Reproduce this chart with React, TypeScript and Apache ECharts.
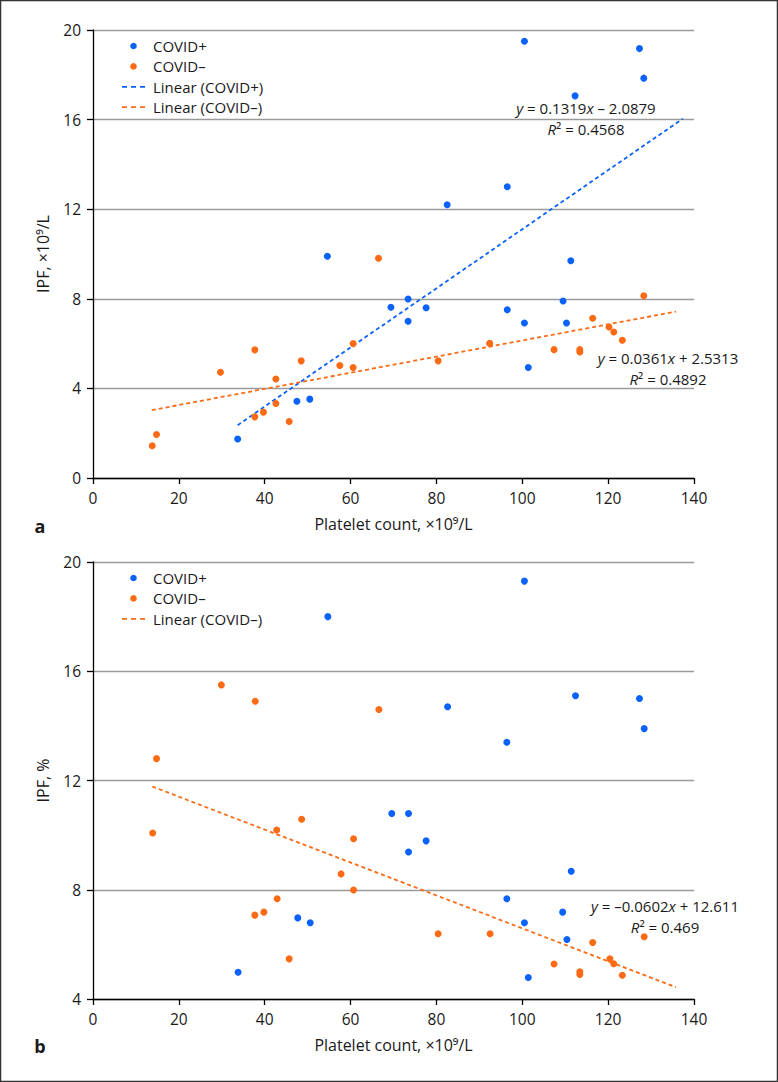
import React, { useEffect, useRef } from 'react';
import * as echarts from 'echarts';

// ---- Data ----
const xTickLabels = ['0', '20', '40', '60', '80', '100', '120', '140'];
const yTicksA = ['0', '4', '8', '12', '16', '20'];
const yTicksB = ['4', '8', '12', '16', '20'];

// Panel a: IPF, ×10⁹/L vs platelet count
const covidPosA: [number, number][] = [
  [33.7, 1.74], [47.5, 3.43], [50.5, 3.52], [54.6, 9.9], [69.4, 7.62], [73.4, 7.99],
  [73.4, 7.0], [77.6, 7.6], [82.5, 12.2], [96.5, 13.0], [96.5, 7.51], [100.5, 19.5],
  [100.5, 6.92], [101.4, 4.93], [109.5, 7.9], [110.3, 6.92], [111.3, 9.7], [112.3, 17.06],
  [127.3, 19.17], [128.3, 17.85],
];
const covidNegA: [number, number][] = [
  [13.8, 1.44], [14.8, 1.94], [29.7, 4.72], [37.7, 5.72], [37.7, 2.73], [39.7, 2.94],
  [42.6, 4.42], [42.6, 3.33], [45.7, 2.52], [48.5, 5.23], [57.5, 5.02], [60.6, 6.0],
  [60.6, 4.93], [66.5, 9.81], [80.4, 5.23], [92.4, 6.01], [107.4, 5.73], [113.4, 5.73],
  [113.4, 5.63], [116.4, 7.13], [120.2, 6.74], [121.3, 6.52], [123.3, 6.15], [128.3, 8.14],
];
const trendPosA: [number, number][] = [[33.7, 2.36], [137.4, 16.04]];
const trendNegA: [number, number][] = [[13.7, 3.03], [135.8, 7.43]];

// Panel b: IPF, % vs platelet count
const covidPosB: [number, number][] = [
  [33.8, 4.98], [47.7, 6.97], [50.6, 6.79], [54.7, 18.0], [69.6, 10.79], [73.5, 10.79],
  [73.5, 9.38], [77.6, 9.79], [82.6, 14.7], [96.4, 13.4], [96.4, 7.67], [100.5, 19.3],
  [100.5, 6.79], [101.4, 4.79], [109.4, 7.18], [110.4, 6.18], [111.4, 8.68], [112.4, 15.1],
  [127.3, 15.0], [128.4, 13.9],
];
const covidNegB: [number, number][] = [
  [13.9, 10.08], [14.8, 12.8], [29.9, 15.5], [37.8, 14.9], [37.7, 7.07], [39.8, 7.18],
  [42.8, 10.19], [42.9, 7.67], [45.7, 5.47], [48.6, 10.58], [57.8, 8.58], [60.7, 9.87],
  [60.7, 7.99], [66.6, 14.6], [80.4, 6.39], [92.5, 6.39], [107.4, 5.28], [113.4, 5.0],
  [113.4, 4.9], [116.4, 6.07], [120.4, 5.47], [121.3, 5.29], [123.3, 4.87], [128.4, 6.28],
];
const trendNegB: [number, number][] = [[13.8, 11.78], [135.8, 4.43]];

const legendA = ['COVID+', 'COVID–', 'Linear (COVID+)', 'Linear (COVID–)'];
const legendB = ['COVID+', 'COVID–', 'Linear (COVID–)'];

const BLUE = '#0a62fb';
const ORANGE = '#fb6b16';
const FONT = '"Open Sans", "Noto Sans", sans-serif';
const TEXT = '#1a1a1a';

function xAxis(gridIndex: number) {
  return {
    type: 'value', gridIndex, min: 0, max: 140, interval: 20,
    name: 'Platelet count, ×10⁹/L', nameLocation: 'middle', nameGap: 38,
    nameTextStyle: { fontFamily: FONT, fontSize: 16, color: TEXT },
    axisLine: { show: true, onZero: false, lineStyle: { color: '#000', width: 1.3 } },
    axisTick: { show: true, inside: false, length: 6, lineStyle: { color: '#000', width: 1.3 } },
    axisLabel: {
      fontFamily: FONT, fontSize: 15.5, color: TEXT, margin: 12,
      formatter: (v: number) => xTickLabels[Math.round(v / 20)] ?? String(v),
    },
    splitLine: { show: false },
  };
}

function yAxis(gridIndex: number, min: number, name: string, labels: string[]) {
  return {
    type: 'value', gridIndex, min, max: 20, interval: 4,
    name, nameLocation: 'middle', nameGap: 42, nameRotate: 90,
    nameTextStyle: { fontFamily: FONT, fontSize: 16, color: TEXT },
    axisLine: { show: true, onZero: false, lineStyle: { color: '#000', width: 1.3 } },
    axisTick: { show: true, inside: false, length: 6, lineStyle: { color: '#000', width: 1.3 } },
    axisLabel: {
      fontFamily: FONT, fontSize: 15.5, color: TEXT, margin: 12,
      formatter: (v: number) => labels[Math.round((v - min) / 4)] ?? String(v),
    },
    splitLine: { show: true, lineStyle: { color: '#9a9a9a', width: 1.3 } },
  };
}

function legendGraphic(items: string[], kinds: string[], top: number) {
  const els: any[] = [];
  items.forEach((label, i) => {
    const y = top + i * 20.4;
    const kind = kinds[i];
    const color = kind.endsWith('blue') ? BLUE : ORANGE;
    if (kind.startsWith('dot')) {
      els.push({ type: 'circle', shape: { cx: 133.5, cy: y, r: 3.3 }, style: { fill: color }, silent: true });
    } else {
      els.push({
        type: 'line', shape: { x1: 122, y1: y, x2: 146, y2: y },
        style: { stroke: color, lineWidth: 1.8, lineDash: [5, 4] }, silent: true,
      });
    }
    els.push({
      type: 'text', x: 153, y,
      style: { text: label, fontFamily: FONT, fontSize: 15, lineHeight: 17, fill: TEXT, align: 'left', verticalAlign: 'middle' },
      silent: true,
    });
  });
  return els;
}

function equation(line1: string, line2: string, cx: number, y1: number, y2: number) {
  const rich = { i: { fontStyle: 'italic', fontFamily: FONT, fontSize: 15, lineHeight: 16, fill: TEXT } };
  const base = { rich, fontFamily: FONT, fontSize: 15, lineHeight: 16, fill: TEXT, align: 'center', verticalAlign: 'middle' };
  return [
    { type: 'text', x: cx, y: y1, style: { ...base, text: line1 }, silent: true },
    { type: 'text', x: cx, y: y2, style: { ...base, text: line2 }, silent: true },
  ];
}

function scatter(name: string, data: [number, number][], color: string, idx: number) {
  return {
    type: 'scatter', name, data, xAxisIndex: idx, yAxisIndex: idx,
    symbol: 'circle', symbolSize: 7, itemStyle: { color, opacity: 1 }, silent: true,
  };
}

function trend(name: string, data: [number, number][], color: string, idx: number) {
  return {
    type: 'line', name, data, xAxisIndex: idx, yAxisIndex: idx, symbol: 'none',
    lineStyle: { color, width: 1.8, type: [4, 3] }, silent: true, z: 1,
  };
}

export default function App() {
  const ref = useRef<HTMLDivElement>(null);
  useEffect(() => {
    document.body.style.margin = '0';
    const chart = echarts.init(ref.current!, null, { renderer: 'svg' });
    chart.setOption({
      animation: false,
      backgroundColor: '#fff',
      grid: [
        { left: 93, top: 30, width: 601, height: 448 },
        { left: 93, top: 562, width: 601, height: 437 },
      ],
      xAxis: [xAxis(0), xAxis(1)],
      yAxis: [yAxis(0, 0, 'IPF, ×10⁹/L', yTicksA), yAxis(1, 4, 'IPF, %', yTicksB)],
      series: [
        trend('Linear (COVID+)', trendPosA, BLUE, 0),
        trend('Linear (COVID–)', trendNegA, ORANGE, 0),
        scatter('COVID+', covidPosA, BLUE, 0),
        scatter('COVID–', covidNegA, ORANGE, 0),
        trend('Linear (COVID–) b', trendNegB, ORANGE, 1),
        scatter('COVID+ b', covidPosB, BLUE, 1),
        scatter('COVID– b', covidNegB, ORANGE, 1),
      ],
      graphic: [
        { type: 'rect', shape: { x: 0.5, y: 0.5, width: 777, height: 1081 }, style: { fill: 'none', stroke: '#333', lineWidth: 1.5 }, silent: true },
        ...legendGraphic(legendA, ['dot-blue', 'dot-orange', 'line-blue', 'line-orange'], 46),
        ...legendGraphic(legendB, ['dot-blue', 'dot-orange', 'line-orange'], 578),
        ...equation('{i|y} = 0.1319{i|x} – 2.0879', '{i|R}² = 0.4568', 586, 108, 129),
        ...equation('{i|y} = 0.0361{i|x} + 2.5313', '{i|R}² = 0.4892', 668, 358, 379),
        ...equation('{i|y} = –0.0602{i|x} + 12.611', '{i|R}² = 0.469', 665, 906, 927),
        { type: 'text', x: 40, y: 526, style: { text: 'a', fontFamily: FONT, fontSize: 18, fontWeight: 'bold', fill: TEXT, align: 'center', verticalAlign: 'middle' }, silent: true },
        { type: 'text', x: 40, y: 1046, style: { text: 'b', fontFamily: FONT, fontSize: 18, fontWeight: 'bold', fill: TEXT, align: 'center', verticalAlign: 'middle' }, silent: true },
      ],
    });
    return () => chart.dispose();
  }, []);
  return <div ref={ref} style={{ width: 778, height: 1082 }} />;
}
